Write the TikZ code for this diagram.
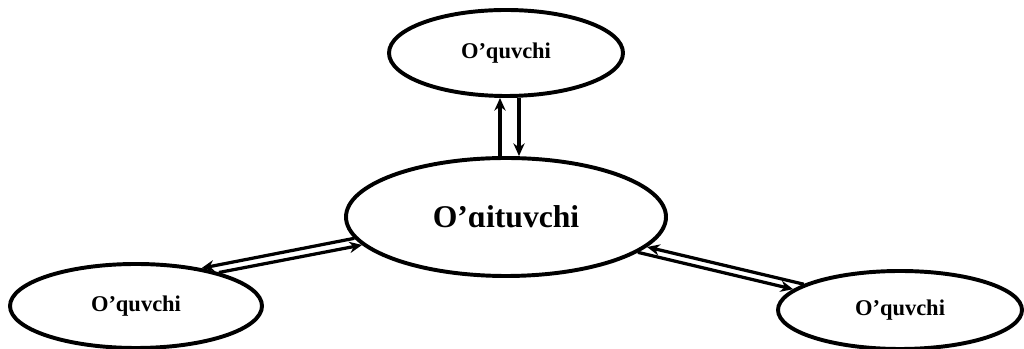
\documentclass[tikz,border=0pt]{standalone}
\usepackage{fontspec}
\setmainfont{Liberation Serif}
\usetikzlibrary{arrows.meta,calc,shapes.geometric}

\begin{document}
\begin{tikzpicture}[
	role/.style={draw, ellipse, line width=2.8pt, inner sep=0pt, font=\bfseries},
	link/.style={line width=2.3pt, -{Stealth[length=9pt,width=8pt]}}
	]
	%%%%% START %%%%%
	
	\useasboundingbox (0, 0) rectangle (25.6, 8.725);
	
	\node[role, minimum width=5.85cm, minimum height=2.15cm, font=\bfseries\fontsize{16}{18}\selectfont] (top) at (12.65, 7.4) {O’quvchi};
	\node[role, minimum width=8cm, minimum height=2.95cm, font=\bfseries\fontsize{22.5}{26}\selectfont] (teacher) at (12.65, 3.3) {O’ɑituvchi};
	\node[role, minimum width=6.3cm, minimum height=2.1cm, font=\bfseries\fontsize{16}{18}\selectfont] (left) at (3.4, 1.075) {O’quvchi};
	\node[role, minimum width=6.1cm, minimum height=1.95cm, font=\bfseries\fontsize{16}{18}\selectfont] (right) at (22.5, 0.975) {O’quvchi};
	
	% up and down
	\draw[link] ($(teacher.north)+(-0.15, 0)$) -- ($(top.south)+(-0.15, 0)$);
	\draw[link] ($(top.south)+(0.325, 0)$) -- ($(teacher.north)+(0.325, 0)$);
	
	% left pair
	\draw[link] (teacher.188) -- (left.30.5);
	\draw[link] (left.22) -- (teacher.191);
	
	% right pair
	\draw[link] (right.165.3) -- (teacher.-12);
	\draw[link] (teacher.-15) -- (right.169);
	
	%%%%% END %%%%%
\end{tikzpicture}
\end{document}
